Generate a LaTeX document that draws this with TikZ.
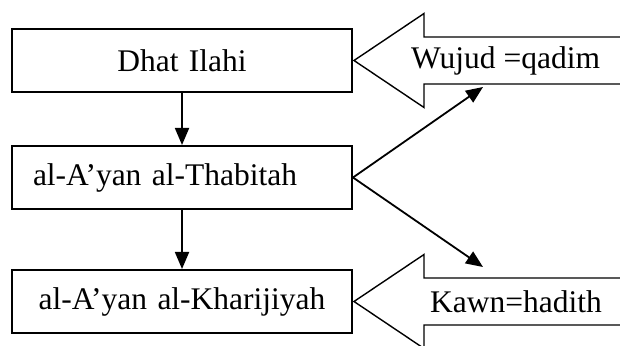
\documentclass[tikz,border=0pt]{standalone}
\usepackage{fontspec}
\setmainfont{Liberation Serif}
\usepackage{tikz}
\usetikzlibrary{positioning, arrows.meta}
\tikzset{basic/.style={draw,line width=2pt,minimum width=340pt,minimum height=63pt,font=\fontsize{31.5}{36}\selectfont}}
\tikzset{stage/.style={basic,text width=298pt,inner xsep=21pt,align=center}}
\tikzset{tag/.style={inner sep=0pt,font=\fontsize{31.5}{36}\selectfont}}
\tikzset{bigarrow/.style={draw,line width=1.4pt,line join=miter}}
\tikzset{flow/.style={line width=1.8pt,-{Triangle[length=17pt,width=14pt]}}}

\begin{document}
\begin{tikzpicture}[x=1pt,y=1pt]
\useasboundingbox (0,0) rectangle (620,345);
\clip (0,0) rectangle (620,345);

% Define boxes
\node[stage] (dhat) at (182,284.5) {Dhat Ilahi};
\node[stage,align=left,below=52pt of dhat] (thabitah) {al-A’yan al-Thabitah};
\node[stage,below=59pt of thabitah] (kharijiyah) {al-A’yan al-Kharijiyah};

% Big arrows pointing at the boxes
\draw[bigarrow] ([xshift=1pt]dhat.east) -- ++(70,47) -- ++(0,-23.5) -- ++(220,0)
  -- ++(0,-47) -- ++(-220,0) -- ++(0,-23.5) -- cycle;
\draw[bigarrow] ([xshift=1pt]kharijiyah.east) -- ++(70,47) -- ++(0,-23.5) -- ++(220,0)
  -- ++(0,-47) -- ++(-220,0) -- ++(0,-23.5) -- cycle;
\node[tag,right=58pt of dhat] (wujud) {Wujud =qadim};
\node[tag,right=77pt of kharijiyah] (kawn) {Kawn=hadith};

% Draw lines between boxes
\path[draw,flow] (dhat) -- (thabitah);
\path[draw,flow] (thabitah) -- (kharijiyah);

% Draw lines from middle box
\coordinate (qadimtip) at (483,258);
\coordinate (hadithtip) at (483,78);
\path[draw,flow] (thabitah.east) -- (qadimtip);
\path[draw,flow] (thabitah.east) -- (hadithtip);

\end{tikzpicture}
\end{document}
